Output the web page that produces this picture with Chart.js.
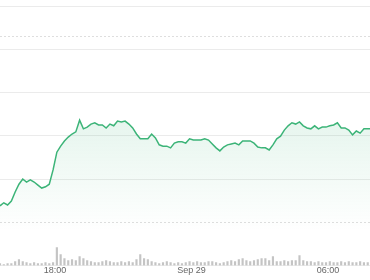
<!DOCTYPE html>
<html>
<head>
<meta charset="utf-8">
<script src="https://cdn.jsdelivr.net/npm/chart.js@4/dist/chart.umd.min.js"></script>
<style>
  html, body { margin: 0; padding: 0; background: #fff; }
  canvas { display: block; }
</style>
</head>
<body>
<canvas id="priceChart" width="370" height="280"></canvas>
<script>
// time of each sample, minutes since Sep 28 00:00 (10 min steps)
const times = [
  935, 945, 955, 965, 975, 985, 995, 1005, 1015, 1025,
  1035, 1045, 1055, 1065, 1075, 1085, 1095, 1105, 1115, 1125,
  1135, 1145, 1155, 1165, 1175, 1185, 1195, 1205, 1215, 1225,
  1235, 1245, 1255, 1265, 1275, 1285, 1295, 1305, 1315, 1325,
  1335, 1345, 1355, 1365, 1375, 1385, 1395, 1405, 1415, 1425,
  1435, 1445, 1455, 1465, 1475, 1485, 1495, 1505, 1515, 1525,
  1535, 1545, 1555, 1565, 1575, 1585, 1595, 1605, 1615, 1625,
  1635, 1645, 1655, 1665, 1675, 1685, 1695, 1705, 1715, 1725,
  1735, 1745, 1755, 1765, 1775, 1785, 1795, 1805, 1815, 1825,
  1835, 1845, 1855, 1865, 1875, 1885, 1895, 1905, 1915
];

// price (grid step = 1)
const prices = [
  1.38, 1.45, 1.40, 1.49, 1.70, 1.88, 2.00, 1.93, 1.98, 1.93,
  1.86, 1.79, 1.82, 1.88, 2.21, 2.62, 2.76, 2.88, 2.97, 3.04,
  3.09, 3.36, 3.16, 3.20, 3.27, 3.30, 3.25, 3.25, 3.18, 3.27,
  3.23, 3.34, 3.32, 3.34, 3.27, 3.18, 3.04, 2.93, 2.93, 2.93,
  3.04, 2.95, 2.79, 2.76, 2.76, 2.72, 2.83, 2.86, 2.86, 2.83,
  2.93, 2.90, 2.90, 2.90, 2.93, 2.90, 2.81, 2.72, 2.65, 2.74,
  2.79, 2.81, 2.83, 2.79, 2.88, 2.88, 2.88, 2.83, 2.74, 2.72,
  2.72, 2.67, 2.79, 2.93, 2.99, 3.13, 3.23, 3.30, 3.27, 3.32,
  3.23, 3.18, 3.16, 3.23, 3.16, 3.20, 3.20, 3.23, 3.25, 3.30,
  3.18, 3.18, 3.13, 3.02, 3.11, 3.06, 3.16, 3.16, 3.16
];

// traded volume per sample
const volumes = [
  2, 1, 2, 2, 4, 6, 4, 3, 2, 3,
  2, 2, 3, 2, 3, 18, 11, 7, 5, 6,
  5, 9, 7, 5, 4, 3, 3, 4, 5, 4,
  3, 3, 4, 3, 4, 3, 6, 11, 7, 6,
  4, 3, 2, 3, 4, 3, 2, 3, 2, 3,
  4, 3, 4, 3, 3, 4, 4, 3, 2, 3,
  4, 5, 4, 6, 7, 5, 4, 5, 6, 7,
  7, 5, 9, 4, 4, 5, 4, 5, 5, 10,
  5, 4, 4, 3, 4, 3, 3, 4, 3, 3,
  4, 3, 4, 3, 3, 4, 3, 3, 2
];

const tickTimes = [1080, 1440, 1800];
const tickLabels = ['18:00', 'Sep 29', '06:00'];
const dottedLevels = [1, 5.31];

const X_MIN = 935, X_MAX = 1911;

// faint dotted guide lines
const dottedLinesPlugin = {
    id: 'dottedLines',
    beforeDatasetsDraw(chart) {
        const { ctx, chartArea, scales } = chart;
        ctx.save();
        ctx.strokeStyle = '#dedede';
        ctx.lineWidth = 1;
        ctx.setLineDash([2, 2]);
        dottedLevels.forEach(level => {
            const y = Math.round(scales.y.getPixelForValue(level)) + 0.5;
            ctx.beginPath();
            ctx.moveTo(chartArea.left, y);
            ctx.lineTo(chartArea.right, y);
            ctx.stroke();
        });
        ctx.restore();
    }
};

function greenFill(context) {
    const area = context.chart.chartArea;
    if (!area) return 'rgba(60, 180, 120, 0.08)';
    const y = context.chart.scales.y;
    const g = context.chart.ctx.createLinearGradient(0, y.getPixelForValue(3.4), 0, y.getPixelForValue(0.8));
    g.addColorStop(0, 'rgba(60, 180, 120, 0.13)');
    g.addColorStop(1, 'rgba(60, 180, 120, 0)');
    return g;
}

const ctx = document.getElementById('priceChart').getContext('2d');

const data = {
    datasets: [
        {
            type: 'line', label: 'Price', yAxisID: 'y',
            data: times.map((t, i) => ({ x: t, y: prices[i] })),
            borderColor: 'rgb(60, 180, 120)', borderWidth: 1.5,
            backgroundColor: greenFill, fill: 'start',
            pointRadius: 0, tension: 0
        },
        {
            type: 'bar', label: 'Volume', yAxisID: 'y2',
            data: times.map((t, i) => ({ x: t, y: volumes[i] })),
            backgroundColor: '#c4c4c4', barThickness: 1.5
        }
    ]
};

const chart = new Chart(ctx, {
    data: data,
    options: {
        responsive: false, animation: false,
        layout: { padding: { top: 6, left: 0, right: 0, bottom: 0 } },
        plugins: { legend: { display: false }, tooltip: { enabled: false } },
        scales: {
            x: {
                type: 'linear', min: X_MIN, max: X_MAX, offset: false,
                afterBuildTicks: axis => { axis.ticks = tickTimes.map(v => ({ value: v })); },
                afterFit: axis => { axis.height = 14.5; },
                ticks: {
                    autoSkip: false, maxRotation: 0, padding: 0, color: '#666',
                    font: { size: 9, family: 'Liberation Sans, Arial, sans-serif' },
                    callback: value => tickLabels[tickTimes.indexOf(value)]
                },
                grid: { display: false, drawTicks: false }, border: { display: false }
            },
            y: {
                min: 0, max: 6, position: 'left', display: true,
                afterFit: axis => { axis.width = 0; },
                ticks: { display: false, stepSize: 1 },
                grid: {
                    drawTicks: false,
                    color: c => (dottedLevels.includes(c.tick.value) ? 'rgba(0,0,0,0)' : '#ebebeb')
                },
                border: { display: false }
            },
            y2: {
                min: 0, max: 259.5, display: false
            }
        }
    },
    plugins: [dottedLinesPlugin]
});
</script>
</body>
</html>
